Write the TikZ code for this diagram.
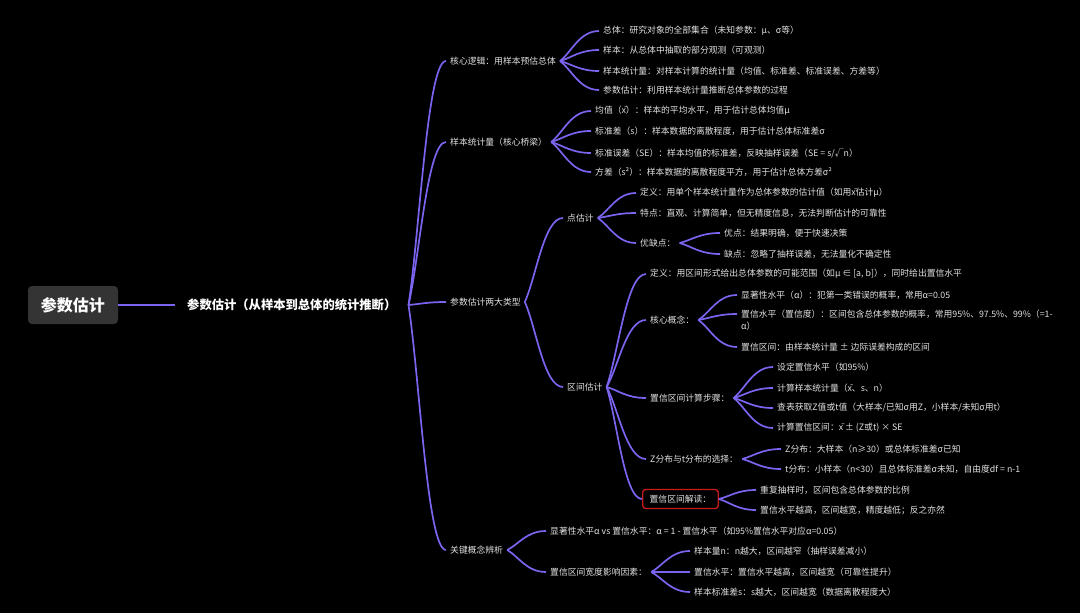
\documentclass[tikz,border=0pt]{standalone}
\usepackage{fontspec}
\setmainfont{Noto Sans CJK SC}
\usepackage{xcolor}
\usetikzlibrary{calc}
\definecolor{branchpurple}{RGB}{125,100,240}
\definecolor{leaftext}{RGB}{226,226,226}
\definecolor{rootgray}{RGB}{52,52,52}
\definecolor{alertred}{RGB}{200,28,28}

\begin{document}
\begin{tikzpicture}[
x=1pt, y=-1pt,
root/.style={rectangle, rounded corners=4pt, fill=rootgray, text=white, font=\fontsize{16}{18}\selectfont\bfseries, minimum width=90pt, minimum height=38pt},
title/.style={anchor=west, text=white, font=\fontsize{12.3}{14}\selectfont\bfseries, inner xsep=12pt},
topic/.style={anchor=west, text=leaftext, font=\fontsize{8.8}{12}\selectfont, inner xsep=4pt, inner ysep=2pt},
leaf/.style={topic},
link/.style={draw=branchpurple, line width=1.7pt, to path={.. controls ($(\tikztostart)!0.3!(\tikztotarget)$) and ($(\tikztotarget -| \tikztostart)!0.5!(\tikztotarget)$) .. (\tikztotarget)}}
]

\fill[black] (0,0) rectangle (1080,613);
\useasboundingbox (0,0) rectangle (1080,613);

\node[root] (root) at (73,305) {参数估计};
\node[title] (main) at (175,305) {参数估计（从样本到总体的统计推断）};

\node[topic] (logic) at (446,61) {核心逻辑：用样本预估总体};
\node[topic] (bridge) at (446,142) {样本统计量（核心桥梁）};
\node[topic] (types) at (446,302) {参数估计两大类型};
\node[topic] (keys) at (446,550) {关键概念辨析};

\node[leaf] (population) at (599,31) {总体：研究对象的全部集合（未知参数：μ、σ等）};
\node[leaf] (sample) at (599,50) {样本：从总体中抽取的部分观测（可观测）};
\node[leaf] (statistic) at (599,71) {样本统计量：对样本计算的统计量（均值、标准差、标准误差、方差等）};
\node[leaf] (estimation) at (599,90) {参数估计：利用样本统计量推断总体参数的过程};

\node[leaf] (mean) at (591,111) {均值（x̄）：样本的平均水平，用于估计总体均值μ};
\node[leaf] (sd) at (591,131) {标准差（s）：样本数据的离散程度，用于估计总体标准差σ};
\node[leaf] (se) at (591,153) {标准误差（SE）：样本均值的标准差，反映抽样误差（SE = s/√n）};
\node[leaf] (var) at (591,172) {方差（s²）：样本数据的离散程度平方，用于估计总体方差σ²};

\node[topic] (point) at (563,218) {点估计};
\node[topic] (interval) at (563,387) {区间估计};

\node[leaf] (pdef) at (636,193) {定义：用单个样本统计量作为总体参数的估计值（如用x̄估计μ）};
\node[leaf] (pfeat) at (636,213) {特点：直观、计算简单，但无精度信息，无法判断估计的可靠性};
\node[leaf] (proscons) at (636,243) {优缺点：};
\node[leaf] (pros) at (720,233) {优点：结果明确，便于快速决策};
\node[leaf] (cons) at (720,254) {缺点：忽略了抽样误差，无法量化不确定性};

\node[leaf] (idef) at (646,274) {定义：用区间形式给出总体参数的可能范围（如μ ∈ [a, b]），同时给出置信水平};
\node[leaf] (concept) at (646,320) {核心概念：};
\node[leaf] (alpha) at (737,295) {显著性水平（α）：犯第一类错误的概率，常用α=0.05};
\node[leaf, align=left] (level) at (737,320) {置信水平（置信度）：区间包含总体参数的概率，常用95\%、97.5\%、99\%（=1-\\α）};
\node[leaf] (ciRange) at (737,347) {置信区间：由样本统计量 ± 边际误差构成的区间};

\node[leaf] (steps) at (646,398) {置信区间计算步骤：};
\node[leaf] (stepA) at (773,367) {设定置信水平（如95\%）};
\node[leaf] (stepB) at (773,388) {计算样本统计量（x̄、s、n）};
\node[leaf] (stepC) at (773,408) {查表获取Z值或t值（大样本/已知σ用Z，小样本/未知σ用t）};
\node[leaf] (stepD) at (773,428) {计算置信区间：x̄ ± (Z或t) × SE};

\node[leaf] (dist) at (646,459) {Z分布与t分布的选择：};
\node[leaf] (zdist) at (781,449) {Z分布：大样本（n≥30）或总体标准差σ已知};
\node[leaf] (tdist) at (781,469) {t分布：小样本（n<30）且总体标准差σ未知，自由度df = n-1};

\node[leaf, draw=alertred, line width=1.3pt, rounded corners=3pt, inner xsep=7pt, minimum height=19pt] (reading) at (642,499) {置信区间解读：};
\node[leaf] (readA) at (756,490) {重复抽样时，区间包含总体参数的比例};
\node[leaf] (readB) at (756,510) {置信水平越高，区间越宽，精度越低；反之亦然};

\node[leaf] (alphavs) at (546,531) {显著性水平α vs 置信水平：α = 1 - 置信水平（如95\%置信水平对应α=0.05）};
\node[leaf] (width) at (546,572) {置信区间宽度影响因素：};
\node[leaf] (widthA) at (690,551) {样本量n：n越大，区间越窄（抽样误差减小）};
\node[leaf] (widthB) at (690,572) {置信水平：置信水平越高，区间越宽（可靠性提升）};
\node[leaf] (widthC) at (690,592) {样本标准差s：s越大，区间越宽（数据离散程度大）};

\draw[link] (root) -- (main);
\draw[link] (main.east) to (logic.west);
\draw[link] (main.east) to (bridge.west);
\draw[link] (main.east) to (types.west);
\draw[link] (main.east) to (keys.west);

\draw[link] (logic.east) to (population.west);
\draw[link] (logic.east) to (sample.west);
\draw[link] (logic.east) to (statistic.west);
\draw[link] (logic.east) to (estimation.west);

\draw[link] (bridge.east) to (mean.west);
\draw[link] (bridge.east) to (sd.west);
\draw[link] (bridge.east) to (se.west);
\draw[link] (bridge.east) to (var.west);

\draw[link] (types.east) to (point.west);
\draw[link] (types.east) to (interval.west);

\draw[link] (point.east) to (pdef.west);
\draw[link] (point.east) to (pfeat.west);
\draw[link] (point.east) to (proscons.west);
\draw[link] (proscons.east) to (pros.west);
\draw[link] (proscons.east) to (cons.west);

\draw[link] (interval.east) to (idef.west);
\draw[link] (interval.east) to (concept.west);
\draw[link] (interval.east) to (steps.west);
\draw[link] (interval.east) to (dist.west);
\draw[link] (interval.east) to (reading.west);

\draw[link] (concept.east) to (alpha.west);
\draw[link] (concept.east) to ([yshift=6pt]level.west);
\draw[link] (concept.east) to (ciRange.west);

\draw[link] (steps.east) to (stepA.west);
\draw[link] (steps.east) to (stepB.west);
\draw[link] (steps.east) to (stepC.west);
\draw[link] (steps.east) to (stepD.west);

\draw[link] (dist.east) to (zdist.west);
\draw[link] (dist.east) to (tdist.west);

\draw[link] (reading.east) to (readA.west);
\draw[link] (reading.east) to (readB.west);

\draw[link] (keys.east) to (alphavs.west);
\draw[link] (keys.east) to (width.west);
\draw[link] (width.east) to (widthA.west);
\draw[link] (width.east) to (widthB.west);
\draw[link] (width.east) to (widthC.west);

\end{tikzpicture}
\end{document}
